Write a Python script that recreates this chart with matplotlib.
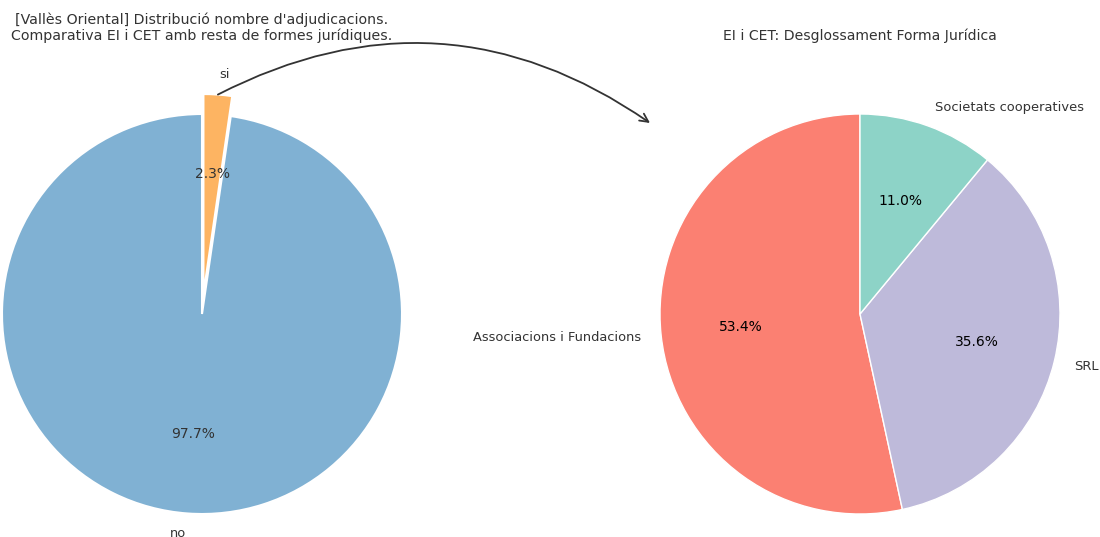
import matplotlib
matplotlib.use("Agg")
import matplotlib.pyplot as plt
import numpy as np
from matplotlib.patches import ConnectionPatch

# Data
left_labels = ["no", "si"]
left_values = [97.7, 2.3]
left_colors = ["#80b1d3", "#fdb462"]

right_labels = ["Associacions i Fundacions", "SRL", "Societats cooperatives"]
right_values = [53.4, 35.6, 11.0]
right_colors = ["#fb8072", "#bebada", "#8dd3c7"]

left_title = "[Vallès Oriental] Distribució nombre d'adjudicacions.\nComparativa EI i CET amb resta de formes jurídiques."
right_title = "EI i CET: Desglossament Forma Jurídica"

W, H = 1100, 537
fig = plt.figure(figsize=(11, 5.37), dpi=100)
txt = "#333333"

def box(cx, cy, r):
    half = 1.25 * r
    return [(cx - half) / W, (H - cy - half) / H, 2 * half / W, 2 * half / H]

ax1 = fig.add_axes(box(202, 314, 200))
ax2 = fig.add_axes(box(860, 314, 200))

w1, t1, a1 = ax1.pie(left_values, labels=left_labels, colors=left_colors,
                     autopct="%1.1f%%", startangle=90, explode=(0, 0.1),
                     wedgeprops=dict(edgecolor="white", linewidth=1.5),
                     textprops=dict(color=txt, fontsize=9.4))
w2, t2, a2 = ax2.pie(right_values, labels=right_labels, colors=right_colors,
                     autopct="%1.1f%%", startangle=90,
                     wedgeprops=dict(edgecolor="white", linewidth=1),
                     textprops=dict(color=txt, fontsize=9.4))
for a in a1:
    a.set_fontsize(10)
for a in a2:
    a.set_color("black")
    a.set_fontsize(10)

fig.text(202 / W, 1 - 28 / H, left_title, ha="center", va="center",
         fontsize=10.15, color=txt, linespacing=1.15)
fig.text(860 / W, 1 - 36 / H, right_title, ha="center", va="center",
         fontsize=10.1, color=txt)

# connecting arrow from the "si" wedge to the breakdown pie
wsi = w1[1]
ang = np.deg2rad((wsi.theta1 + wsi.theta2) / 2)
cx, cy = wsi.center
xyA = (cx + wsi.r * np.cos(ang), cy + wsi.r * np.sin(ang))
xyB = (-1.05, 0.955)
con = ConnectionPatch(xyA=xyA, coordsA=ax1.transData, xyB=xyB, coordsB=ax2.transData,
                      arrowstyle="->", connectionstyle="arc3,rad=-0.3",
                      color="#333333", linewidth=1.3, mutation_scale=15)
fig.add_artist(con)

fig.savefig("out.png", dpi=100)
